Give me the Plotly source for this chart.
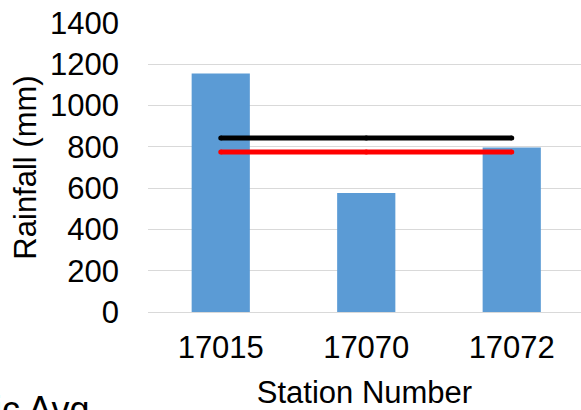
import plotly.graph_objects as go

# Annual rainfall by station with the two basin averages
stations = ["17015", "17070", "17072"]
rainfall_mm = [1155, 576, 797]
arithmetic_avg = [843, 843, 843]
thiessen_avg = [775, 775, 775]
y_ticks = [0, 200, 400, 600, 800, 1000, 1200, 1400]

W, H = 581, 410
left, right, top, bottom = 148, 0, 23, 98
font = "Liberation Sans, Arial, sans-serif"
fs = 31

fig = go.Figure()
fig.add_trace(go.Bar(
    x=stations, y=rainfall_mm, name="Rainfall",
    marker=dict(color="#5b9bd5", line=dict(width=0)),
    width=0.4, showlegend=False,
))
fig.add_trace(go.Scatter(
    x=stations, y=arithmetic_avg, name="Arithmetic Avg",
    mode="lines+markers",
    line=dict(color="#000000", width=5),
    marker=dict(color="#000000", size=5),
    showlegend=False,
))
fig.add_trace(go.Scatter(
    x=stations, y=thiessen_avg, name="Thiessen Avg",
    mode="lines+markers",
    line=dict(color="#ff0000", width=5),
    marker=dict(color="#ff0000", size=5),
    showlegend=False,
))

# Legend entry for the black line, sitting low-left below the axis
plot_w = W - left - right
plot_h = H - top - bottom
fig.add_annotation(
    text="Arithmetic Avg", xref="paper", yref="paper",
    x=(89 - left) / plot_w, y=-(410 - (H - bottom)) / plot_h,
    xanchor="right", yanchor="middle", showarrow=False,
    borderpad=0, borderwidth=0,
    font=dict(family=font, size=36, color="#000000"),
)

fig.update_layout(
    width=W, height=H,
    margin=dict(l=left, r=right, t=top, b=bottom, pad=0, autoexpand=False),
    paper_bgcolor="white", plot_bgcolor="white",
    font=dict(family=font, size=fs, color="#000000"),
    bargap=0.6,
)
fig.update_xaxes(
    type="category", range=[-0.5, 2.476], automargin=False,
    showgrid=False, zeroline=False, showline=False, ticks="",
    ticklabelstandoff=14,
    title=dict(text="Station Number", font=dict(size=fs), standoff=26),
)
fig.update_yaxes(
    range=[0, 1400], tickvals=y_ticks, automargin=False,
    showgrid=True, gridcolor="#d9d9d9", gridwidth=1.3,
    zeroline=True, zerolinecolor="#d9d9d9", zerolinewidth=1.3,
    showline=False, ticks="", ticklabelstandoff=28,
    title=dict(text="Rainfall (mm)", font=dict(size=fs), standoff=4),
)

fig.write_html("out.html")
